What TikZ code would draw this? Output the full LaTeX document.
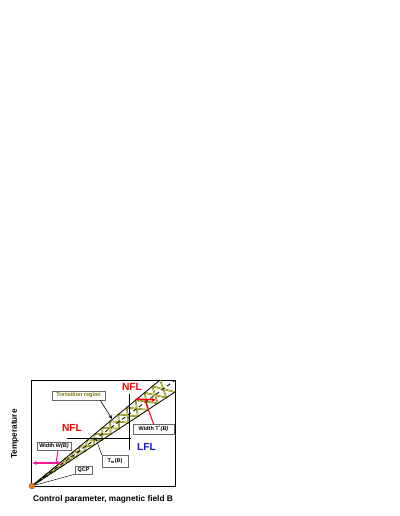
\documentclass[tikz,border=0pt]{standalone}
\usepackage{fontspec}
\setmainfont{Liberation Sans}
\usetikzlibrary{calc, arrows.meta, shadows}

\definecolor{bandolive}{RGB}{120,120,0}
\definecolor{bandlight}{RGB}{235,235,120}
\definecolor{qcporange}{RGB}{235,125,25}
\definecolor{widthpink}{RGB}{250,20,150}
\definecolor{lflblue}{RGB}{20,20,235}

\begin{document}
\begin{tikzpicture}[x=1bp, y=-1bp,
  lbl/.style={font=\fontsize{8.3}{9}\selectfont\bfseries},
  phase/.style={font=\fontsize{10.3}{11}\selectfont\bfseries},
  tag/.style={draw=black!60, fill=white, line width=0.5bp, inner xsep=2bp, inner ysep=1bp,
              font=\fontsize{5.5}{6}\selectfont\bfseries,
              general shadow={fill=black!45, shadow xshift=0.7bp, shadow yshift=-0.7bp}},
  hatch/.style={bandolive, line width=1.6bp, line cap=round},
  hatchcore/.style={bandlight, line width=0.5bp, line cap=round},
  bandline/.style={black, line width=0.8bp},
  guide/.style={black, line width=0.45bp},
  arr/.style={-{Triangle[length=3.5bp, width=3bp]}},
  dbl/.style={arrows={Triangle[length=3.8bp, width=3.4bp]-Triangle[length=3.8bp, width=3.4bp]}, line width=1.3bp}]
  \useasboundingbox (0,0) rectangle (399,516);
  % frame and axis labels
  \draw[line width=1bp] (31,380) rectangle (175,486);
  \node[lbl, rotate=90] (ylab) at (15,434) {Temperature};
  \node[lbl] (xlab) at (103,499) {Control parameter, magnetic field B};
  % band ends
  \coordinate (qc) at (32,486);
  \coordinate (up) at (160,380);
  \coordinate (lo) at (175,392);
  \coordinate (mid) at (174,381);
  % crossover band
  \begin{scope}
    \clip (31,380) rectangle (175,486);
    \foreach \a/\b in {0.02/0.065, 0.065/0.11, 0.11/0.16, 0.16/0.21, 0.21/0.26,
                       0.26/0.315, 0.315/0.37, 0.37/0.43, 0.43/0.49, 0.49/0.55,
                       0.55/0.61, 0.61/0.675, 0.675/0.74, 0.74/0.81, 0.81/0.88,
                       0.88/0.94, 0.94/1.0}
    {
      \draw[hatch] ($(qc)!\a!(up)$) -- ($(qc)!\b!(lo)$);
      \draw[hatch] ($(qc)!\a!(lo)$) -- ($(qc)!\b!(up)$);
    }
    \foreach \a/\b in {0.02/0.065, 0.065/0.11, 0.11/0.16, 0.16/0.21, 0.21/0.26,
                       0.26/0.315, 0.315/0.37, 0.37/0.43, 0.43/0.49, 0.49/0.55,
                       0.55/0.61, 0.61/0.675, 0.675/0.74, 0.74/0.81, 0.81/0.88,
                       0.88/0.94, 0.94/1.0}
    {
      \draw[hatchcore] ($(qc)!\a!(up)$) -- ($(qc)!\b!(lo)$);
      \draw[hatchcore] ($(qc)!\a!(lo)$) -- ($(qc)!\b!(up)$);
    }
  \end{scope}
  \draw[bandline] (qc) -- (up);
  \draw[bandline] (qc) -- (lo);
  \draw[bandline, dash pattern=on 4bp off 3bp] (qc) -- (mid);
  % field and temperature sweeps
  \coordinate (hl) at (67,438);
  \coordinate (hr) at (131,438);
  \coordinate (vb) at (129,450);
  \coordinate (vt) at (129,394);
  \draw[guide] (hl) -- (hr);
  \draw[guide] (vb) -- (vt);
  % phases
  \node[phase, red] (nfltop) at (132,387) {NFL};
  \node[phase, red] (nflleft) at (72,428) {NFL};
  \node[phase, lflblue] (lfl) at (146.5,447) {LFL};
  % widths
  \coordinate (wl) at (32.5,463);
  \coordinate (wr) at (61,463);
  \coordinate (wm) at (56,463);
  \draw[dbl, widthpink] (wl) -- (wr);
  \coordinate (tl) at (135,399);
  \coordinate (tr) at (156,400);
  \coordinate (tm) at (145,400);
  \draw[dbl, red] (tl) -- (tr);
  % tags
  \node[tag, text=bandolive, minimum width=53bp, minimum height=9bp] (trans) at (78.5,395.5) {Transition region};
  \node[tag, minimum width=34bp, minimum height=8bp] (wtag) at (54,446) {Width \textit{W(B)}};
  \node[tag, minimum width=41bp, minimum height=10bp] (ttag) at (153.5,429) {Width T\textsuperscript{*}\textit{(B)}};
  \node[tag, minimum width=26bp, minimum height=12bp] (tmtag) at (115,461) {T\textsubscript{m}(B)};
  \node[tag, minimum width=17bp, minimum height=8bp] (qtag) at (83.5,470) {QCP};
  % pointers
  \coordinate (trpt) at (112,419);
  \draw[guide, arr, line width=0.6bp] (trans.south east) ++(-5bp,0) coordinate (trs) (trs) -- (trpt);
  \coordinate (tmpt) at ($(qc)!0.45!(mid)$);
  \draw[guide] (tmtag.north west) -- (tmpt);
  \draw[widthpink, line width=1bp] (wtag.south) ++(4bp,0) coordinate (ws) (ws) -- (wm);
  \draw[red, line width=1bp] (ttag.north) coordinate (ts) (ts) -- (tm);
  \node[circle, fill=qcporange, draw=black!60, line width=0.4bp, minimum size=6bp, inner sep=0pt] (qcp) at (qc) {};
  \draw[guide] (qtag.south west) -- (qcp);
\end{tikzpicture}
\end{document}
